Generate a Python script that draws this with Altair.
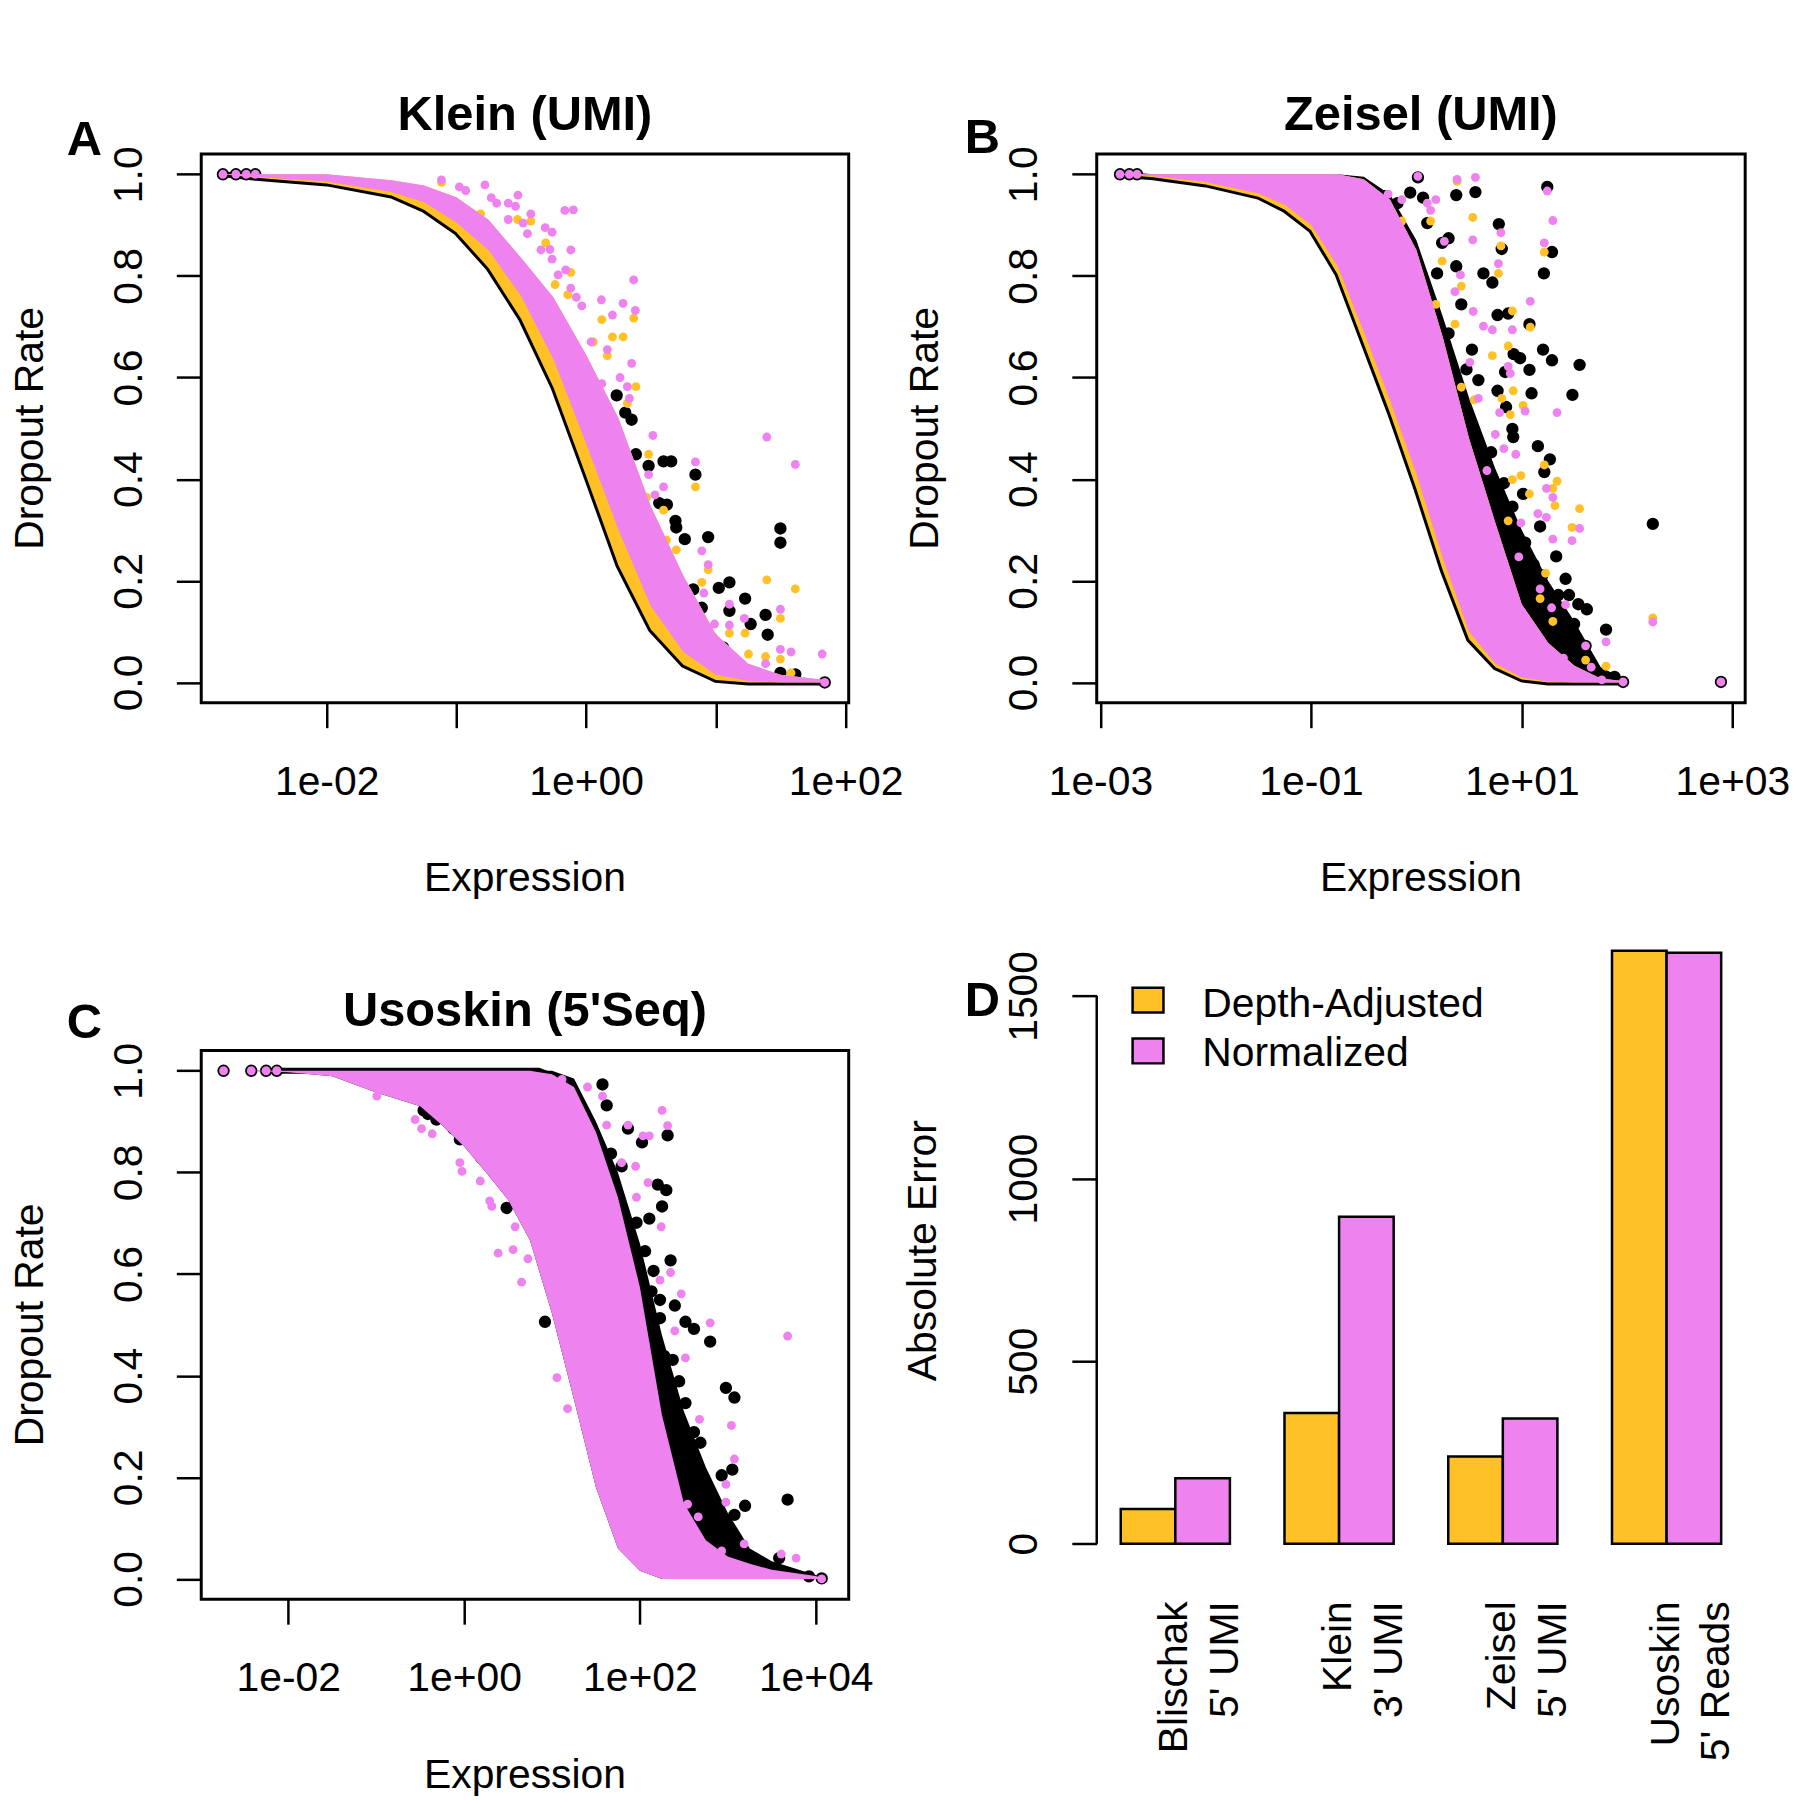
import altair as alt
import numpy as np
import pandas as pd

FONT = "Liberation Sans"
GOLD = "#FFC125"
PINK = "#EE82EE"

# ---------------- A: Klein (UMI) ----------------
# outline of the dense cloud, read on a log10(expression) grid
klein_grid = [-2.8, -2.5, -2.0, -1.5, -1.25, -1.0, -0.75, -0.5, -0.25, 0.0,
              0.25, 0.5, 0.75, 1.0, 1.25, 1.5, 1.84]
klein_black = [1.0, 0.992, 0.982, 0.958, 0.93, 0.886, 0.815, 0.715, 0.58, 0.407,
               0.23, 0.104, 0.035, 0.005, 0.0, 0.0, 0.0]
klein_lo = [1.0, 0.994, 0.986, 0.965, 0.945, 0.905, 0.85, 0.76, 0.635, 0.47,
            0.3, 0.15, 0.06, 0.015, 0.003, 0.0, 0.0]
klein_hi = [1.0, 1.0, 1.0, 0.988, 0.978, 0.955, 0.91, 0.835, 0.757, 0.645,
            0.52, 0.346, 0.21, 0.095, 0.037, 0.015, 0.005]
# single genes (log10 expression, dropout rate)
klein_black_pts = [
    (-2.80, 1.0), (-2.70, 1.0), (-2.62, 1.0), (-2.55, 1.0), (1.84, 0.0),
    (0.236, 0.565), (0.351, 0.517), (0.302, 0.531), (0.384, 0.449), (0.482, 0.426),
    (0.597, 0.435), (0.656, 0.435), (0.843, 0.409), (0.564, 0.353), (0.623, 0.350),
    (0.689, 0.318), (0.695, 0.305), (0.761, 0.282), (0.941, 0.286), (1.498, 0.303),
    (1.498, 0.275), (1.023, 0.186), (1.105, 0.197), (1.226, 0.165), (1.105, 0.141),
    (1.384, 0.133), (1.269, 0.115), (1.400, 0.094), (1.056, 0.069), (1.498, 0.019),
    (1.613, 0.016), (0.826, 0.183), (0.892, 0.147),
]
klein_gold_pts = [
    (-1.115, 0.984), (-0.813, 0.922), (-0.528, 0.911), (-0.426, 0.908), (-0.311, 0.865),
    (-0.118, 0.807), (-0.239, 0.783), (-0.141, 0.763), (0.121, 0.714), (0.367, 0.717),
    (0.203, 0.680), (0.285, 0.680), (0.164, 0.643), (0.056, 0.670), (0.384, 0.582),
    (0.318, 0.549), (0.482, 0.449), (0.843, 0.385), (0.597, 0.339), (0.941, 0.222),
    (0.892, 0.197), (1.393, 0.202), (1.613, 0.184), (1.226, 0.097), (1.105, 0.097),
    (1.498, 0.126), (1.252, 0.056), (1.384, 0.051), (1.498, 0.046), (1.580, 0.019),
    (0.695, 0.261), (0.466, 0.364), (0.69, 0.17), (0.80, 0.10), (0.92, 0.05),
    (0.98, 0.09), (0.62, 0.28),
]
klein_pink_pts = [
    (-2.80, 1.0), (-2.70, 1.0), (-2.62, 1.0), (-2.55, 1.0), (1.84, 0.0),
    (-1.115, 0.989), (-0.977, 0.975), (-0.928, 0.968), (-0.780, 0.979), (-0.731, 0.954),
    (-0.689, 0.943), (-0.600, 0.943), (-0.525, 0.959), (-0.544, 0.937), (-0.600, 0.911),
    (-0.485, 0.904), (-0.426, 0.922), (-0.452, 0.883), (-0.315, 0.895), (-0.262, 0.886),
    (-0.348, 0.851), (-0.279, 0.852), (-0.262, 0.833), (-0.118, 0.851), (-0.164, 0.929),
    (-0.098, 0.930), (-0.216, 0.802), (-0.157, 0.812), (-0.118, 0.776), (-0.075, 0.758),
    (-0.033, 0.741), (0.118, 0.753), (0.285, 0.746), (0.203, 0.723), (0.367, 0.792),
    (0.380, 0.732), (0.039, 0.670), (0.164, 0.655), (0.351, 0.628), (0.262, 0.600),
    (0.318, 0.582), (0.121, 0.588), (0.515, 0.486), (0.843, 0.434), (0.482, 0.409),
    (0.597, 0.385), (0.531, 0.369), (0.892, 0.259), (0.941, 0.232), (0.908, 0.176),
    (0.990, 0.115), (1.105, 0.113), (1.220, 0.126), (1.105, 0.154), (1.498, 0.144),
    (1.498, 0.065), (1.580, 0.060), (1.820, 0.056), (1.384, 0.037), (1.393, 0.483),
    (1.613, 0.429), (0.334, 0.559),
]

# ---------------- B: Zeisel (UMI) ----------------
zeisel_grid = [-2.85, -2.5, -2.0, -1.5, -1.25, -1.0, -0.75, -0.5, -0.25, 0.0,
               0.25, 0.5, 0.75, 1.0, 1.25, 1.5, 1.75, 2.0]
zeisel_black = [1.0, 0.994, 0.98, 0.956, 0.93, 0.89, 0.804, 0.667, 0.53, 0.381,
                0.221, 0.085, 0.03, 0.006, 0.0, 0.0, 0.0, 0.0]
zeisel_lo = [1.0, 0.996, 0.985, 0.962, 0.94, 0.90, 0.82, 0.69, 0.555, 0.41,
             0.245, 0.10, 0.037, 0.01, 0.002, 0.0, 0.0, 0.0]
zeisel_hi = [1.0, 1.0, 1.0, 1.0, 1.0, 1.0, 1.0, 0.99, 0.95, 0.851,
             0.68, 0.48, 0.314, 0.154, 0.078, 0.033, 0.008, 0.002]
zeisel_black_hi = [1.0, 1.0, 1.0, 1.0, 1.0, 1.0, 1.0, 0.995, 0.96, 0.87,
                   0.72, 0.56, 0.42, 0.30, 0.20, 0.12, 0.03, 0.004]
zeisel_black_pts = [
    (-2.814, 1.0), (-2.725, 1.0), (-2.652, 1.0), (2.891, 0.001), (1.962, 0.001),
    (0.014, 0.994), (0.378, 0.959), (0.560, 0.965), (1.242, 0.975), (0.782, 0.902),
    (0.810, 0.853), (1.287, 0.847), (1.210, 0.805), (0.636, 0.805), (0.721, 0.787),
    (0.305, 0.874), (0.244, 0.865), (0.378, 0.819), (0.196, 0.805), (0.426, 0.744),
    (0.770, 0.723), (0.871, 0.726), (1.073, 0.705), (1.202, 0.655), (1.287, 0.634),
    (1.549, 0.625), (1.073, 0.615), (1.481, 0.566), (1.093, 0.569), (0.923, 0.646),
    (0.984, 0.638), (0.842, 0.611), (0.527, 0.655), (0.475, 0.616), (0.588, 0.595),
    (0.770, 0.574), (0.851, 0.542), (0.911, 0.499), (0.919, 0.483), (1.153, 0.465),
    (1.267, 0.439), (1.214, 0.414), (0.830, 0.392), (1.012, 0.371), (1.174, 0.307),
    (1.327, 0.248), (1.416, 0.204), (1.618, 0.144), (1.537, 0.154), (1.448, 0.172),
    (1.347, 0.172), (1.497, 0.115), (1.376, 0.076), (1.800, 0.104), (1.275, 0.119),
    (1.174, 0.069), (1.606, 0.072), (2.244, 0.312), (1.113, 0.232), (1.194, 0.211),
    (1.105, 0.140), (1.760, 0.012), (1.881, 0.011), (-0.301, 0.957), (-0.180, 0.943),
    (-0.059, 0.964), (0.063, 0.954), (0.103, 0.904), (0.143, 0.630), (0.305, 0.687),
    (0.911, 0.346), (1.032, 0.275), (1.154, 0.168), (1.275, 0.062), (1.396, 0.041),
    (0.709, 0.453), (0.669, 0.403),
]
zeisel_gold_pts = [
    (0.386, 0.986), (0.535, 0.915), (0.802, 0.859), (0.778, 0.805), (1.214, 0.847),
    (0.135, 0.908), (0.244, 0.829), (0.426, 0.780), (0.366, 0.705), (0.911, 0.731),
    (1.081, 0.699), (0.871, 0.662), (0.721, 0.643), (1.012, 0.545), (0.919, 0.574),
    (0.547, 0.556), (0.810, 0.559), (0.891, 0.527), (1.214, 0.428), (0.992, 0.407),
    (0.911, 0.399), (1.335, 0.396), (1.295, 0.382), (1.073, 0.371), (1.549, 0.342),
    (1.477, 0.305), (1.315, 0.348), (1.226, 0.215), (1.174, 0.165), (1.295, 0.120),
    (2.244, 0.127), (1.606, 0.044), (1.800, 0.032), (0.063, 0.716), (0.184, 0.744),
    (0.426, 0.581), (0.345, 0.538), (-0.139, 0.908), (-0.018, 0.829), (0.871, 0.318),
    (0.749, 0.275),
]
zeisel_pink_pts = [
    (-2.814, 1.0), (-2.725, 1.0), (-2.652, 1.0), (2.891, 0.001), (1.962, 0.001),
    (0.014, 0.996), (0.560, 0.994), (0.386, 0.990), (1.242, 0.967), (1.295, 0.909),
    (0.535, 0.871), (0.802, 0.885), (0.778, 0.824), (1.214, 0.865), (0.418, 0.802),
    (0.265, 0.868), (0.135, 0.929), (0.103, 0.943), (0.184, 0.950), (-0.269, 0.961),
    (-0.139, 0.950), (0.366, 0.769), (0.539, 0.730), (1.081, 0.750), (0.636, 0.701),
    (0.911, 0.694), (0.721, 0.694), (0.871, 0.622), (0.891, 0.608), (1.335, 0.531),
    (1.032, 0.534), (0.790, 0.531), (0.830, 0.460), (0.943, 0.449), (1.234, 0.382),
    (1.295, 0.364), (1.153, 0.332), (1.234, 0.325), (1.295, 0.282), (1.477, 0.279),
    (1.549, 0.303), (0.992, 0.314), (0.972, 0.247), (1.174, 0.184), (1.283, 0.147),
    (1.416, 0.153), (1.073, 0.104), (1.800, 0.080), (1.606, 0.072), (1.659, 0.030),
    (2.244, 0.119), (1.396, 0.048), (1.760, 0.005), (0.749, 0.488), (0.669, 0.417),
    (0.507, 0.630), (0.588, 0.559),
]

# ---------------- C: Usoskin (5'Seq) ----------------
usoskin_grid = [-2.75, -2.5, -2.0, -1.5, -1.0, -0.5, -0.25, 0.0, 0.25, 0.5, 0.75, 1.0,
                1.25, 1.5, 1.75, 2.0, 2.25, 2.5, 2.75, 3.0, 3.25, 3.5, 4.0, 4.1]
usoskin_lo = [1.0, 1.0, 0.997, 0.989, 0.957, 0.93, 0.893, 0.851, 0.80, 0.746, 0.666, 0.522,
              0.353, 0.18, 0.06, 0.016, 0.0, 0.0, 0.0, 0.0, 0.0, 0.0, 0.0, 0.0]
usoskin_hi = [1.0, 1.0, 1.0, 1.0, 1.0, 1.0, 1.0, 1.0, 1.0, 1.0, 1.0, 0.993,
              0.968, 0.879, 0.751, 0.574, 0.323, 0.149, 0.076, 0.044, 0.03, 0.018, 0.006, 0.0]
usoskin_black_hi = [1.0, 1.0, 1.0, 1.0, 1.0, 1.0, 1.0, 1.0, 1.0, 1.0, 1.0, 1.0,
                    0.985, 0.90, 0.80, 0.66, 0.48, 0.33, 0.22, 0.13, 0.06, 0.035, 0.008, 0.0]
usoskin_top_line = [(-2.1, 1.0), (0.85, 1.0), (1.0, 0.99)]
usoskin_black_pts = [
    (-2.736, 1.0), (-2.421, 1.0), (-2.252, 1.0), (-2.131, 1.0), (4.068, 0.001),
    (1.114, 0.979), (1.574, 0.973), (1.622, 0.932), (1.864, 0.886), (2.024, 0.859),
    (2.315, 0.873), (1.792, 0.812), (1.671, 0.837), (2.203, 0.776), (2.300, 0.765),
    (2.252, 0.733), (2.107, 0.709), (1.961, 0.701), (2.349, 0.627), (2.058, 0.645),
    (2.155, 0.606), (2.131, 0.566), (2.228, 0.549), (2.228, 0.513), (2.397, 0.538),
    (2.518, 0.506), (2.615, 0.492), (2.799, 0.467), (2.276, 0.439), (2.373, 0.431),
    (2.978, 0.376), (3.075, 0.357), (2.446, 0.389), (2.518, 0.346), (2.421, 0.311),
    (2.615, 0.289), (2.688, 0.268), (2.421, 0.247), (2.542, 0.225), (2.639, 0.204),
    (2.930, 0.204), (3.051, 0.215), (3.680, 0.156), (3.196, 0.144), (3.075, 0.126),
    (2.809, 0.126), (2.615, 0.140), (2.712, 0.090), (2.906, 0.076), (3.027, 0.076),
    (3.293, 0.037), (3.584, 0.041), (2.954, 0.048), (3.148, 0.030), (2.857, 0.019),
    (3.680, 0.012), (3.923, 0.005), (0.920, 0.506), (0.484, 0.730), (0.194, 0.829),
    (-0.048, 0.865), (-0.412, 0.915), (-0.315, 0.904), (-0.460, 0.922), (-0.121, 0.886),
    (1.743, 0.751), (1.985, 0.616), (2.324, 0.303), (2.470, 0.168),
]
usoskin_pink_pts = [
    (-2.736, 1.0), (-2.421, 1.0), (-2.252, 1.0), (-2.131, 1.0), (4.068, 0.0),
    (1.114, 0.983), (1.404, 0.968), (1.574, 0.950), (1.622, 0.893), (1.864, 0.893),
    (2.034, 0.872), (2.107, 0.872), (2.252, 0.922), (2.315, 0.892), (1.951, 0.812),
    (1.792, 0.819), (1.961, 0.751), (2.092, 0.780), (2.242, 0.693), (2.349, 0.603),
    (2.228, 0.588), (2.470, 0.561), (2.799, 0.504), (2.397, 0.488), (2.518, 0.435),
    (3.680, 0.478), (2.678, 0.314), (3.041, 0.302), (3.075, 0.236), (2.978, 0.186),
    (2.978, 0.151), (3.186, 0.069), (2.930, 0.055), (3.608, 0.049), (3.777, 0.041),
    (2.542, 0.147), (2.663, 0.122), (0.387, 0.641), (0.557, 0.648), (0.654, 0.584),
    (0.726, 0.630), (1.056, 0.396), (1.177, 0.335), (0.184, 0.783), (-0.048, 0.819),
    (-0.024, 0.802), (0.291, 0.744), (0.315, 0.733), (0.581, 0.693), (-0.484, 0.886),
    (-0.363, 0.876), (-0.557, 0.904), (-0.993, 0.950),
]

# ---------------- D: absolute error bars ----------------
datasets = ["Blischak", "Klein", "Zeisel", "Usoskin"]
protocols = ["5' UMI", "3' UMI", "5' UMI", "5' Reads"]
series = ["Depth-Adjusted", "Normalized"]
depth_adjusted = [95, 358, 239, 1624]
normalized = [179, 895, 343, 1618]
error_ticks = [0, 500, 1000, 1500]

AXIS = dict(tickSize=25, tickWidth=2.5, tickColor="black", labelPadding=35,
            labelFont=FONT, labelFontSize=41, labelColor="black",
            labelOverlap=False, labelFlush=False, domain=False, grid=False)


def text_mark(text, x, y, size=41, bold=False, align="center", angle=0):
    return (
        alt.Chart(pd.DataFrame({"t": [text]}))
        .mark_text(text=text, font=FONT, fontSize=size, color="black",
                   fontWeight="bold" if bold else "normal", align=align,
                   baseline="alphabetic", angle=angle)
        .encode(x=alt.value(x), y=alt.value(y))
    )


def dropout_panel(title, title_y, letter, letter_xy, width, x_range, x_ticks, x_labels,
                  grid, curves, black_pts, gold_pts, pink_pts, top_line=None, anchor=False):
    height = 551
    xs = alt.Scale(type="log", domain=[10.0 ** x_range[0], 10.0 ** x_range[1]], nice=False)
    ys = alt.Scale(domain=[-0.04, 1.04], nice=False, zero=False)
    expo = "round(log(datum.value) / LN10)"
    label_expr = "''"
    for k, txt in zip(x_ticks, x_labels):
        if txt:
            label_expr = f"{expo} == {k} ? '{txt}' : {label_expr}"
    x_enc = alt.X("expr:Q", scale=xs, title=None,
                  axis=alt.Axis(values=[10.0 ** k for k in x_ticks], labelExpr=label_expr,
                                labelAngle=0, labelAlign="center", labelBaseline="top", **AXIS))
    y_axis = alt.Axis(values=[0, 0.2, 0.4, 0.6, 0.8, 1.0], format=".1f", labelAngle=270,
                      labelAlign="center", labelBaseline="alphabetic", **AXIS)

    def y_enc(field):
        return alt.Y(f"{field}:Q", scale=ys, title=None, axis=y_axis)

    def frame(pairs):
        df = pd.DataFrame(pairs, columns=["lx", "rate"])
        df["expr"] = np.power(10.0, df["lx"])
        return df

    def dots(pairs, color, size):
        return alt.Chart(frame(pairs)).mark_circle(size=size, color=color, opacity=1).encode(
            x=x_enc, y=y_enc("rate"))

    band = pd.DataFrame({"lx": grid, **curves})
    band["expr"] = np.power(10.0, band["lx"])

    layers = []
    if "black" in curves:
        layers.append(alt.Chart(band).mark_line(color="black", strokeWidth=6)
                      .encode(x=x_enc, y=y_enc("black")))
    if top_line:
        layers.append(alt.Chart(frame(top_line)).mark_line(color="black", strokeWidth=6)
                      .encode(x=x_enc, y=y_enc("rate")))
    if "black_hi" in curves:
        layers.append(alt.Chart(band).mark_area(color="black", opacity=1)
                      .encode(x=x_enc, y=y_enc("lo"), y2="black_hi"))
    layers.append(dots(black_pts, "black", 154))
    if "black" in curves:
        layers.append(alt.Chart(band).mark_area(color=GOLD, opacity=1)
                      .encode(x=x_enc, y=y_enc("black"), y2="hi"))
    if gold_pts:
        layers.append(dots(gold_pts, GOLD, 79))
    layers.append(alt.Chart(band).mark_area(color=PINK, opacity=1)
                  .encode(x=x_enc, y=y_enc("lo"), y2="hi"))
    layers.append(dots(pink_pts, PINK, 79))

    layers.append(text_mark(title, width / 2, title_y, size=49, bold=True))
    layers.append(text_mark(letter, letter_xy[0], letter_xy[1], size=49, bold=True, align="left"))
    layers.append(text_mark("Dropout Rate", -159, height / 2, angle=270))
    layers.append(text_mark("Expression", width / 2, height + 189))
    if anchor:
        layers.append(
            alt.Chart(pd.DataFrame({"t": [0]})).mark_rule(opacity=0).encode(
                x=alt.value(-192), x2=alt.value(-191), y=alt.value(-141), y2=alt.value(-140))
        )
    return alt.layer(*layers).properties(
        width=width, height=height,
        view=alt.ViewBackground(stroke="black", strokeWidth=3),
    )


panel_a = dropout_panel(
    "Klein (UMI)", -24, "A", (-135, 1), 650, (-2.967, 2.0246),
    [-2, -1, 0, 1, 2], ["1e-02", "", "1e+00", "", "1e+02"],
    klein_grid, {"black": klein_black, "lo": klein_lo, "hi": klein_hi},
    klein_black_pts, klein_gold_pts, klein_pink_pts, anchor=True,
)
panel_b = dropout_panel(
    "Zeisel (UMI)", -24, "B", (-132.5, -1), 651, (-3.035, 3.121),
    [-3, -1, 1, 3], ["1e-03", "1e-01", "1e+01", "1e+03"],
    zeisel_grid,
    {"black": zeisel_black, "lo": zeisel_lo, "hi": zeisel_hi, "black_hi": zeisel_black_hi},
    zeisel_black_pts, zeisel_gold_pts, zeisel_pink_pts,
)
panel_c = dropout_panel(
    "Usoskin (5'Seq)", -25, "C", (-135, -12), 650, (-2.990, 4.375),
    [-2, 0, 2, 4], ["1e-02", "1e+00", "1e+02", "1e+04"],
    usoskin_grid, {"lo": usoskin_lo, "hi": usoskin_hi, "black_hi": usoskin_black_hi},
    usoskin_black_pts, [], usoskin_pink_pts, top_line=usoskin_top_line,
)

# ---- panel D ----
bar_df = pd.DataFrame({
    "group": datasets * 2,
    "series": [series[0]] * 4 + [series[1]] * 4,
    "value": depth_adjusted + normalized,
})
label_df = pd.DataFrame({
    "group": datasets,
    "label": [f"{d}\n{p}" for d, p in zip(datasets, protocols)],
})
d_x = alt.X("group:N", sort=datasets, axis=None,
            scale=alt.Scale(paddingInner=1 / 3, paddingOuter=0.44 / 3))
d_y_scale = alt.Scale(domain=[-65, 1689], nice=False, zero=False)
d_y_axis = alt.Axis(values=error_ticks, format="d", labelAngle=270, labelAlign="center",
                    labelBaseline="alphabetic", **AXIS)

bars = alt.Chart(bar_df).mark_bar(stroke="black", strokeWidth=2.5, opacity=1).encode(
    x=d_x,
    xOffset=alt.XOffset("series:N", sort=series,
                        scale=alt.Scale(paddingInner=0, paddingOuter=0)),
    y=alt.Y("value:Q", scale=d_y_scale, axis=d_y_axis, title=None),
    y2=alt.datum(0),
    color=alt.Color("series:N", scale=alt.Scale(domain=series, range=[GOLD, PINK]),
                    legend=None),
)
axis_line = alt.Chart(pd.DataFrame({"lo": [min(error_ticks)], "hi": [max(error_ticks)]})).mark_rule(
    color="black", strokeWidth=2.5
).encode(
    x=alt.value(0),
    y=alt.Y("lo:Q", scale=d_y_scale, axis=d_y_axis, title=None),
    y2="hi",
)
group_labels = alt.Chart(label_df).mark_text(
    angle=270, align="right", baseline="middle", lineBreak="\n", lineHeight=51,
    font=FONT, fontSize=41, color="black",
).encode(x=d_x, y=alt.value(677), text="label:N")


def swatch(color, y0, y1):
    return alt.Chart(pd.DataFrame({"t": [0]})).mark_rect(
        fill=color, stroke="black", strokeWidth=2.5
    ).encode(x=alt.value(36), x2=alt.value(67), y=alt.value(y0), y2=alt.value(y1))


panel_d = alt.layer(
    bars, axis_line, group_labels,
    swatch(GOLD, 61, 86), swatch(PINK, 112, 137),
    text_mark(series[0], 106, 90.6, align="left"),
    text_mark(series[1], 106, 139.5, align="left"),
    text_mark("D", -132.5, 89.6, size=49, bold=True, align="left"),
    text_mark("Absolute Error", -161.5, 325, angle=270),
).properties(width=651, height=643)

# with flush bounds a nested column counts as zero wide, so the gap is the full offset
left = alt.vconcat(panel_a, panel_c, spacing=349, bounds="flush")
right = alt.vconcat(panel_b, panel_d, spacing=225, bounds="flush")
chart = (
    alt.hconcat(left, right, spacing=899, bounds="flush")
    .properties(padding=0)
    .configure_view(strokeWidth=0)
)

chart.save("out.html", embed_options={"renderer": "svg", "actions": False})
